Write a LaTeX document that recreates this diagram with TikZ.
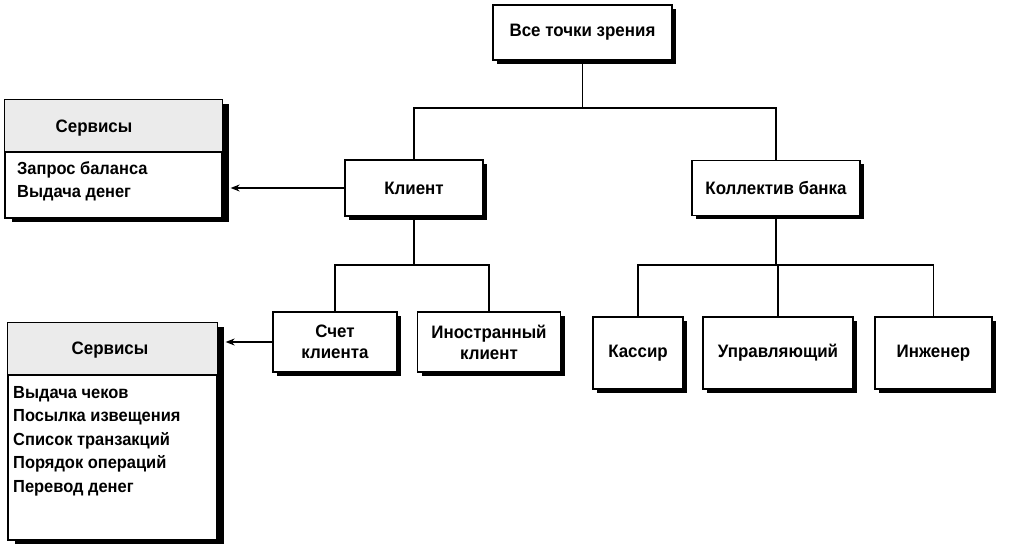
\documentclass[tikz,border=0pt]{standalone}
\usepackage{fontspec}
\setmainfont{Liberation Sans}[FakeStretch=0.94]
\usetikzlibrary{arrows.meta,shadows,positioning}
\begin{document}
\begin{tikzpicture}[x=1pt,y=-1pt,
  box/.style={draw,line width=1.3pt,fill=white,align=center,
    font=\fontsize{18}{21}\selectfont\bfseries,
    inner sep=0pt,
    drop shadow={shadow xshift=4pt,shadow yshift=-4pt,fill=black,opacity=1}},
  svcbox/.style={draw,line width=1.3pt,fill=white,inner sep=0pt,
    drop shadow={shadow xshift=7pt,shadow yshift=-4pt,fill=black,opacity=1}},
  svchead/.style={font=\fontsize{18}{21}\selectfont\bfseries,inner sep=0pt},
  svcitems/.style={font=\fontsize{17.5}{23.5}\selectfont\bfseries,align=left,
    anchor=north west,inner sep=0pt},
  link/.style={line width=1.3pt},
  arr/.style={line width=1.2pt,-{Stealth[length=9pt,width=7pt]}}
]
\useasboundingbox (0,0) rectangle (1009,545);

% hierarchy of viewpoints
\node[box,minimum width=179pt,minimum height=55pt] (top) at (582.5,32.5) {Все точки зрения};
\node[box,minimum width=138pt,minimum height=56pt] (client) at (414,188) {Клиент};
\node[box,minimum width=168pt,minimum height=55pt] (bank) at (776,188) {Коллектив банка};
\node[box,minimum width=124pt,minimum height=60pt] (acct) at (335,342) {Счет\\клиента};
\node[box,minimum width=143pt,minimum height=60pt] (foreign) at (489,342) {Иностранный\\клиент};
\node[box,minimum width=90pt,minimum height=72pt] (cashier) at (638,353) {Кассир};
\node[box,minimum width=150pt,minimum height=72pt] (manager) at (778,353) {Управляющий};
\node[box,minimum width=117pt,minimum height=72pt] (engineer) at (933.5,353) {Инженер};

\coordinate (j1) at (582.5,108);
\coordinate (j2) at (414,265);
\coordinate (j3) at (776,265);
\draw[link] (top) -- (j1);
\draw[link] (j1) -| (client);
\draw[link] (j1) -| (bank);
\draw[link] (client) -- (j2);
\draw[link] (j2) -| (acct);
\draw[link] (j2) -| (foreign);
\draw[link] (bank) -- (j3);
\draw[link] (j3) -| (cashier);
\draw[link] (j3) -| (manager);
\draw[link] (j3) -| (engineer);

% services of the client
\node[svcbox,minimum width=217pt,minimum height=118pt] (svcA) at (113.5,159) {};
\fill[gray!16] (svcA.north west) rectangle (222,152);
\draw[line width=1.3pt] (svcA.north west) rectangle (svcA.south east);
\draw[line width=1.3pt] (5,152) -- (222,152);
\node[svchead] (svcAh) at (94,128) {Сервисы};
\node[svcitems] (svcAi) at (17,161) {Запрос баланса\\Выдача денег};

% services of the client account
\node[svcbox,minimum width=209pt,minimum height=217pt] (svcB) at (112.5,431.5) {};
\fill[gray!16] (svcB.north west) rectangle (217,375);
\draw[line width=1.3pt] (svcB.north west) rectangle (svcB.south east);
\draw[line width=1.3pt] (8,375) -- (217,375);
\node[svchead] (svcBh) at (110,350) {Сервисы};
\node[svcitems] (svcBi) at (13,386) {Выдача чеков\\Посылка извещения\\Список транзакций\\Порядок операций\\Перевод денег};

\draw[arr] (client.west) -- ([xshift=8pt]svcA.east |- client.west);
\draw[arr] (acct.west) -- ([xshift=8pt]svcB.east |- acct.west);
\end{tikzpicture}
\end{document}
